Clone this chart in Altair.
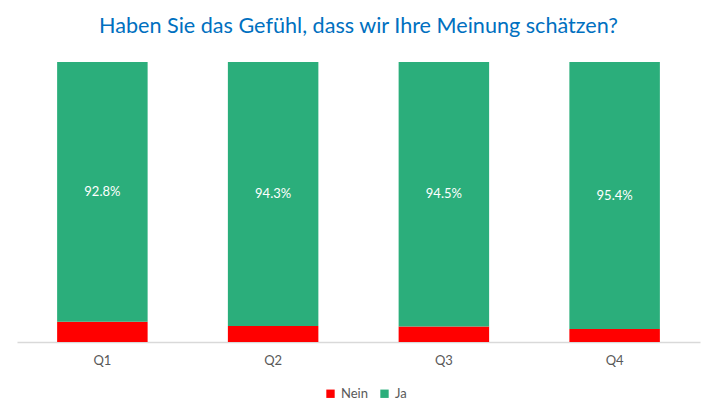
import altair as alt
import pandas as pd

quarters = ["Q1", "Q2", "Q3", "Q4"]
nein = [7.2, 5.7, 5.5, 4.6]
ja = [92.8, 94.3, 94.5, 95.4]
series = ["Nein", "Ja"]
colors = ["#FF0000", "#2BAE7B"]

rows = []
for q, n, j in zip(quarters, nein, ja):
    rows.append({"Quartal": q, "Antwort": "Nein", "Wert": n, "ord": 0})
    rows.append({"Quartal": q, "Antwort": "Ja", "Wert": j, "ord": 1})
df = pd.DataFrame(rows)

lab = pd.DataFrame({
    "Quartal": quarters,
    "mid": [n + j / 2 for n, j in zip(nein, ja)],
    "text": [f"{j:.1f}%" for j in ja],
})

FONT = "Lato"

x = alt.X("Quartal:N", sort=quarters,
          scale=alt.Scale(paddingInner=0.47, paddingOuter=0.235),
          axis=alt.Axis(title=None, labelAngle=0, labelFont=FONT, labelFontSize=13,
                        labelColor="#595959", labelPadding=12, ticks=False,
                        domainColor="#D9D9D9", domainWidth=1.3))

bars = alt.Chart(df).mark_bar().encode(
    x=x,
    y=alt.Y("Wert:Q", stack="zero", scale=alt.Scale(domain=[0, 100], nice=False), axis=None),
    color=alt.Color("Antwort:N", sort=series,
                    scale=alt.Scale(domain=series, range=colors),
                    legend=alt.Legend(title=None, orient="none", direction="horizontal",
                                      legendX=307, legendY=325, symbolType="square",
                                      symbolSize=70, symbolStrokeWidth=0,
                                      labelFont=FONT, labelFontSize=13, labelColor="#595959",
                                      columnPadding=10, symbolOffset=0)),
    order=alt.Order("ord:Q"),
)

text = alt.Chart(lab).mark_text(color="white", font=FONT, fontSize=13).encode(
    x=alt.X("Quartal:N", sort=quarters),
    y=alt.Y("mid:Q"),
    text="text:N",
)

chart = alt.layer(bars, text).properties(
    width=683, height=280,
    autosize=alt.AutoSizeParams(type="none"),
    padding={"left": 9, "top": 54, "right": 11, "bottom": 60},
    title=alt.TitleParams("Haben Sie das Gefühl, dass wir Ihre Meinung schätzen?",
                          font=FONT, fontSize=21.6, fontWeight="normal", color="#0070C0",
                          anchor="middle", offset=24),
).configure_view(stroke=None)

chart.save("out.html", embed_options={"renderer": "svg", "actions": False})
